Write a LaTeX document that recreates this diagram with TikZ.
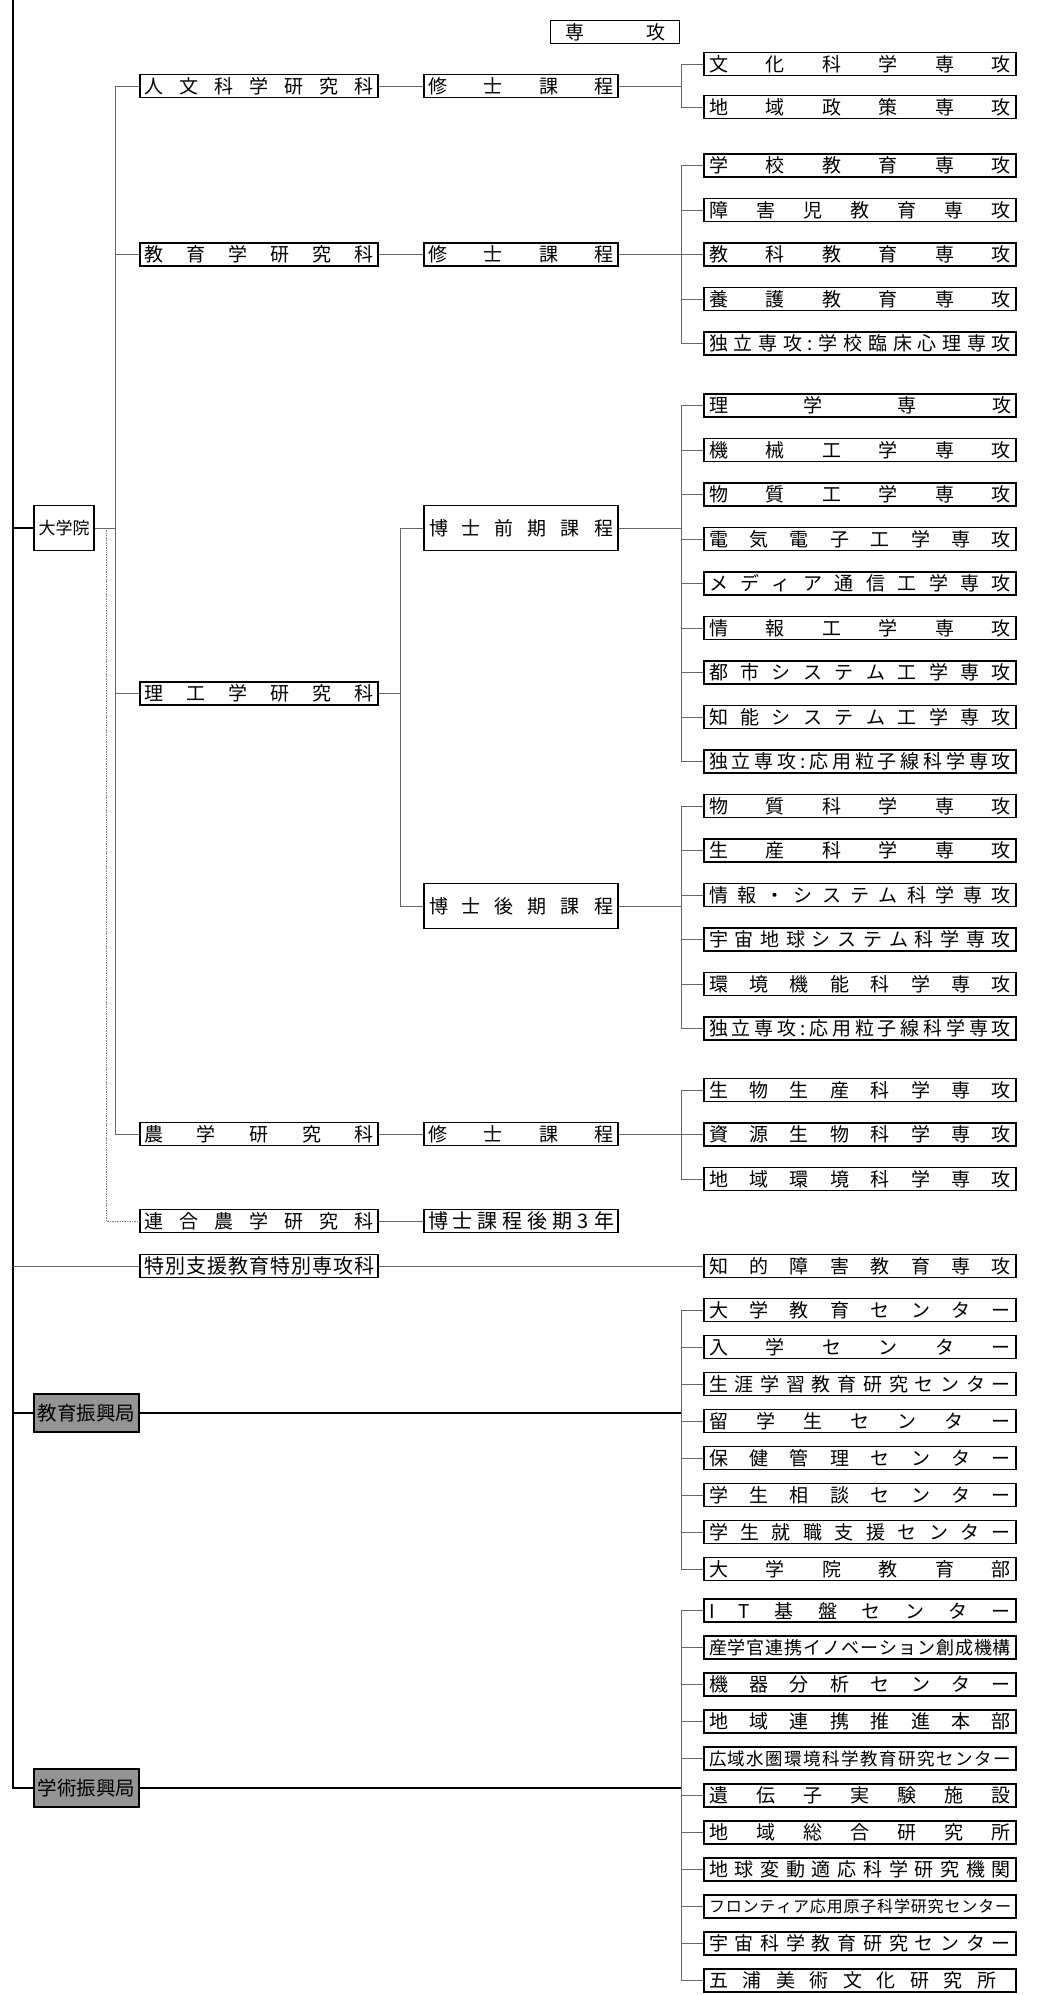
\documentclass[tikz,border=0pt]{standalone}
\usepackage{fontspec}
\setmainfont{Noto Sans CJK JP}
\usetikzlibrary{positioning}
\newcommand{\spread}[2]{\makebox[#1][s]{\spaceskip=0pt plus 1fil\xspaceskip=0pt plus 1fil #2}}

\begin{document}
\begin{tikzpicture}[
  x=1pt, y=-1pt,
  every node/.style={font=\fontsize{19}{19}\selectfont},
  unit/.style={draw, line width=1.8pt, fill=white, minimum width=312pt,
               minimum height=23pt, inner sep=0pt},
  dept/.style={unit, minimum width=238pt},
  course/.style={unit, minimum width=194pt},
  office/.style={unit, minimum width=105pt, minimum height=38pt, fill=black!42,
                 font=\fontsize{19.5}{19.5}\selectfont},
  link/.style={draw=black!60, line width=0.9pt},
  trunk/.style={draw=black, line width=1.2pt}
]
\useasboundingbox (0,0) rectangle (1050,1995);

% junction columns
\coordinate (top) at (13,0);
\coordinate (kx) at (115,0);
\coordinate (px) at (400,0);
\coordinate (jx) at (681,0);

% left side
\node[unit, minimum width=60pt, minimum height=45pt,
      font=\fontsize{17}{17}\selectfont] (dg) at (64,528) {大学院};
\node[office] (kyoiku) at (86.5,1413) {教育振興局};
\node[office] (gakujutsu) at (86.5,1788) {学術振興局};

% graduate schools
\node[dept] (k1) at (259,86) {\spread{230pt}{人 文 科 学 研 究 科}};
\node[dept] (k2) at (259,254.5) {\spread{230pt}{教 育 学 研 究 科}};
\node[dept] (k3) at (259,693.5) {\spread{230pt}{理 工 学 研 究 科}};
\node[dept] (k4) at (259,1134) {\spread{230pt}{農 学 研 究 科}};
\node[dept] (k5) at (259,1221) {\spread{230pt}{連 合 農 学 研 究 科}};
\node[dept, font=\fontsize{20}{20}\selectfont] (k6) at (259,1266)
  {\spread{230pt}{特 別 支 援 教 育 特 別 専 攻 科}};

% courses
\node[course] (m1) at (521,86) {\spread{186pt}{修 士 課 程}};
\node[course] (m2) at (521,254.5) {\spread{186pt}{修 士 課 程}};
\node[course, minimum height=45pt] (m3) at (521,528)
  {\spread{184pt}{博 士 前 期 課 程}};
\node[course, minimum height=45pt] (m4) at (521,906)
  {\spread{184pt}{博 士 後 期 課 程}};
\node[course] (m5) at (521,1134) {\spread{186pt}{修 士 課 程}};
\node[course, font=\fontsize{20}{20}\selectfont] (m6) at (521,1221)
  {\spread{186pt}{博 士 課 程 後 期 3 年}};

\node[unit, minimum width=129pt] (hdr) at (615,32) {\spread{100pt}{専 攻}};

% majors and centers
\foreach \n/\p/\y/\s/\t in {
  a1/m1/64/19/文 化 科 学 専 攻, a2/m1/107/19/地 域 政 策 専 攻,
  b1/m2/165.5/19/学 校 教 育 専 攻, b2/m2/210/19/障 害 児 教 育 専 攻,
  b3/m2/254.5/19/教 科 教 育 専 攻, b4/m2/299/19/養 護 教 育 専 攻,
  b5/m2/343.5/19/独 立 専 攻 : 学 校 臨 床 心 理 専 攻,
  c1/m3/405.5/19/理 学 専 攻, c2/m3/450/19/機 械 工 学 専 攻,
  c3/m3/494.5/19/物 質 工 学 専 攻, c4/m3/539/19/電 気 電 子 工 学 専 攻,
  c5/m3/583.5/19/メ デ ィ ア 通 信 工 学 専 攻, c6/m3/628/19/情 報 工 学 専 攻,
  c7/m3/672.5/19/都 市 シ ス テ ム 工 学 専 攻, c8/m3/717/19/知 能 シ ス テ ム 工 学 専 攻,
  c9/m3/761.5/19/独 立 専 攻 : 応 用 粒 子 線 科 学 専 攻,
  d1/m4/806/19/物 質 科 学 専 攻, d2/m4/850.5/19/生 産 科 学 専 攻,
  d3/m4/895/19/情 報 ・ シ ス テ ム 科 学 専 攻,
  d4/m4/939.5/19/宇 宙 地 球 シ ス テ ム 科 学 専 攻,
  d5/m4/984/19/環 境 機 能 科 学 専 攻,
  d6/m4/1028.5/19/独 立 専 攻 : 応 用 粒 子 線 科 学 専 攻,
  e1/m5/1090/19/生 物 生 産 科 学 専 攻, e2/m5/1134.5/19/資 源 生 物 科 学 専 攻,
  e3/m5/1179/19/地 域 環 境 科 学 専 攻,
  f1/k6/1266/19/知 的 障 害 教 育 専 攻,
  g1/kyoiku/1310/19/大 学 教 育 セ ン タ ー, g2/kyoiku/1347/19/入 学 セ ン タ ー,
  g3/kyoiku/1384/19/生 涯 学 習 教 育 研 究 セ ン タ ー,
  g4/kyoiku/1421/19/留 学 生 セ ン タ ー, g5/kyoiku/1458/19/保 健 管 理 セ ン タ ー,
  g6/kyoiku/1495/19/学 生 相 談 セ ン タ ー,
  g7/kyoiku/1532/19/学 生 就 職 支 援 セ ン タ ー,
  g8/kyoiku/1569/19/大 学 院 教 育 部,
  h1/gakujutsu/1610.5/19/I T 基 盤 セ ン タ ー,
  h2/gakujutsu/1647.5/18/産 学 官 連 携 イ ノ ベ ー シ ョ ン 創 成 機 構,
  h3/gakujutsu/1684.5/19/機 器 分 析 セ ン タ ー,
  h4/gakujutsu/1721.5/19/地 域 連 携 推 進 本 部,
  h5/gakujutsu/1758.5/17.5/広 域 水 圏 環 境 科 学 教 育 研 究 セ ン タ ー,
  h6/gakujutsu/1795.5/19/遺 伝 子 実 験 施 設,
  h7/gakujutsu/1832.5/19/地 域 総 合 研 究 所,
  h8/gakujutsu/1869.5/19/地 球 変 動 適 応 科 学 研 究 機 関,
  h9/gakujutsu/1906.5/16/フ ロ ン テ ィ ア 応 用 原 子 科 学 研 究 セ ン タ ー,
  h10/gakujutsu/1943.5/19/宇 宙 科 学 教 育 研 究 セ ン タ ー,
  h11/gakujutsu/1980.5/19/五 浦 美 術 文 化 研 究 所
} {
  \node[unit, font=\fontsize{\s}{\s}\selectfont] (\n) at (860,\y) {\spread{302pt}{\t}};
  \draw[link] (\p.east) -- (\p.east -| jx) |- (\n.west);
}

% tree lines
\foreach \k in {k1,k2,k3,k4} {
  \draw[link] (dg.east) -- (dg.east -| kx) |- (\k.west);
}
\draw[draw=black!50, densely dotted, line width=0.7pt] (dg.east) ++(11,0) |- (k5.west);
\draw[link] (k1.east) -- (m1.west);
\draw[link] (k2.east) -- (m2.west);
\draw[link] (k3.east) -- (k3.east -| px) |- (m3.west);
\draw[link] (k3.east) -- (k3.east -| px) |- (m4.west);
\draw[link] (k4.east) -- (m5.west);
\draw[link] (k5.east) -- (m6.west);

% outer line
\draw[trunk] (top) |- (gakujutsu.west);
\draw[trunk] (top |- dg) -- (dg.west);
\draw[link] (top |- k6) -- (k6.west);
\draw[trunk] (top |- kyoiku) -- (kyoiku.west);
\draw[trunk] (kyoiku.east) -- (kyoiku.east -| jx);
\draw[trunk] (gakujutsu.east) -- (gakujutsu.east -| jx);

\end{tikzpicture}
\end{document}
